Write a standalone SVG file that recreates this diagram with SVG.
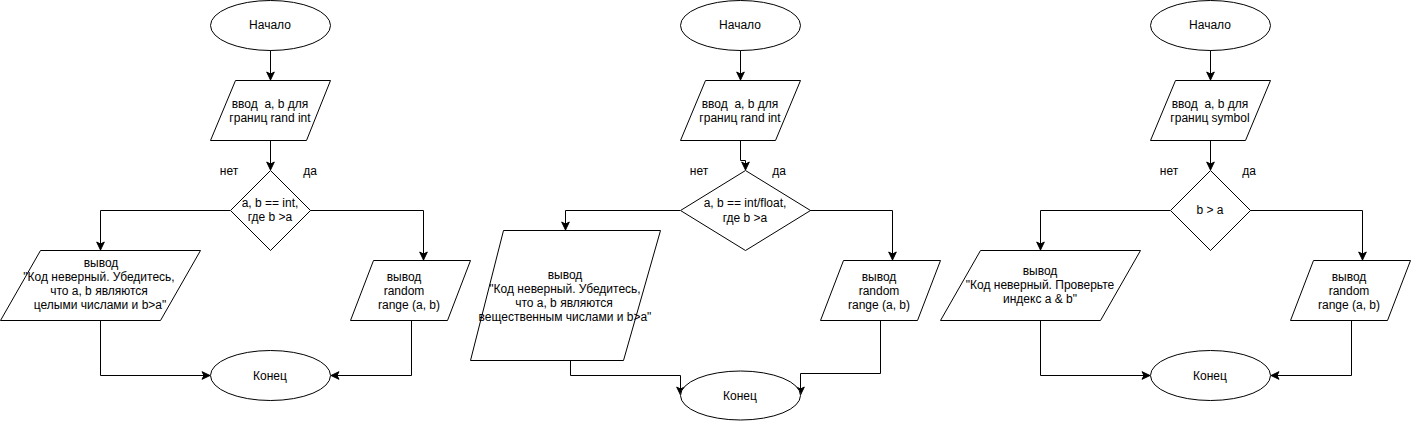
<svg xmlns="http://www.w3.org/2000/svg" width="1411" height="421" viewBox="0 0 1411 421">
<style>
.s{fill:#fff;stroke:#000;stroke-width:1}
.c{fill:none;stroke:#000;stroke-width:1;marker-end:url(#a)}
text{font-family:"Liberation Sans",Arial,sans-serif;font-size:12px;fill:#000;text-anchor:middle;dominant-baseline:central;white-space:pre}
</style>
<defs>
<marker id="a" markerUnits="userSpaceOnUse" markerWidth="10" markerHeight="10" viewBox="0 0 10 10" refX="9" refY="5" orient="auto">
<path d="M1,1.2 L9,5 L1,8.8 L3,5 Z" fill="#000" stroke="#000" stroke-width="1"/>
</marker>
</defs>
<rect width="1411" height="421" fill="#fff"/>
<g id="connectors">
<!-- diagram 1 -->
<path class="c" d="M270.5,50 V80"/>
<path class="c" d="M270.5,140 V170"/>
<path class="c" d="M230,210.5 H100.5 V250"/>
<path class="c" d="M310,210.5 H423.5 V260"/>
<path class="c" d="M100.5,320 V375.5 H210"/>
<path class="c" d="M411.5,320 V375.5 H331"/>
<!-- diagram 2 -->
<path class="c" d="M740.5,50 V80"/>
<path class="c" d="M740.5,140 V160.5 H745.5 V170"/>
<path class="c" d="M680,210.5 H565.5 V230"/>
<path class="c" d="M810,210.5 H892.5 V260"/>
<path class="c" d="M570.5,360 V375.5 H680.5 V395"/>
<path class="c" d="M880.5,320 V373.5 H800.5 V395"/>
<!-- diagram 3 -->
<path class="c" d="M1210.5,50 V80"/>
<path class="c" d="M1210.5,140 V170"/>
<path class="c" d="M1170,210.5 H1040.5 V250"/>
<path class="c" d="M1250,210.5 H1362.5 V260"/>
<path class="c" d="M1040.5,320 V375.5 H1150"/>
<path class="c" d="M1351.5,320 V375.5 H1271"/>
</g>
<g id="labels">
<text x="229" y="171">нет</text>
<text x="310" y="171">да</text>
<text x="699" y="171">нет</text>
<text x="779" y="171">да</text>
<text x="1169" y="171">нет</text>
<text x="1249" y="171">да</text>
</g>
<!-- Diagram 1 -->
<g id="d1-start"><ellipse class="s" cx="270.5" cy="25.5" rx="60" ry="25"/><text x="270" y="25">Начало</text></g>
<g id="d1-input"><polygon class="s" points="235.5,80.5 330.5,80.5 306.5,140.5 210.5,140.5"/><text x="270" y="104">ввод  a, b для</text><text x="270" y="118">границ rand int</text></g>
<g id="d1-cond"><polygon class="s" points="270.5,170.5 310.5,210.5 270.5,250.5 230.5,210.5"/><text x="270" y="203">a, b == int,</text><text x="270" y="217">где b &gt;a</text></g>
<g id="d1-err"><polygon class="s" points="40.5,250.5 200.5,250.5 160.5,320.5 0.5,320.5"/><text x="101" y="263">вывод</text><text x="99" y="277">"Код неверный. Убедитесь,</text><text x="99" y="291">что а, b являются</text><text x="100" y="305">целыми числами и b&gt;a"</text></g>
<g id="d1-out"><polygon class="s" points="373.5,260.5 470.5,260.5 447.5,320.5 350.5,320.5"/><text x="404" y="277">вывод</text><text x="404" y="291">random</text><text x="409" y="305">range (a, b)</text></g>
<g id="d1-end"><ellipse class="s" cx="270.5" cy="375.5" rx="60" ry="25"/><text x="270" y="376">Конец</text></g>
<!-- Diagram 2 -->
<g id="d2-start"><ellipse class="s" cx="740.5" cy="25.5" rx="60" ry="25"/><text x="740" y="25">Начало</text></g>
<g id="d2-input"><polygon class="s" points="705.5,80.5 800.5,80.5 775.5,140.5 680.5,140.5"/><text x="740" y="104">ввод  a, b для</text><text x="740" y="118">границ rand int</text></g>
<g id="d2-cond"><polygon class="s" points="745.5,170.5 810.5,210.5 745.5,250.5 680.5,210.5"/><text x="745" y="203">a, b == int/float,</text><text x="745" y="218">где b &gt;a</text></g>
<g id="d2-err"><polygon class="s" points="503.5,230.5 660.5,230.5 623.5,360.5 470.5,360.5"/><text x="565" y="275">вывод</text><text x="565" y="289">"Код неверный. Убедитесь,</text><text x="564" y="303">что а, b являются</text><text x="565" y="317">вещественным числами и b&gt;a"</text></g>
<g id="d2-out"><polygon class="s" points="843.5,260.5 940.5,260.5 917.5,320.5 820.5,320.5"/><text x="879" y="277">вывод</text><text x="879" y="291">random</text><text x="879" y="305">range (a, b)</text></g>
<g id="d2-end"><ellipse class="s" cx="740.5" cy="395.5" rx="60" ry="24.5"/><text x="740" y="396">Конец</text></g>
<!-- Diagram 3 -->
<g id="d3-start"><ellipse class="s" cx="1210.5" cy="25.5" rx="60" ry="25"/><text x="1210" y="25">Начало</text></g>
<g id="d3-input"><polygon class="s" points="1175.5,80.5 1270.5,80.5 1245.5,140.5 1150.5,140.5"/><text x="1210" y="104">ввод  a, b для</text><text x="1210" y="118">границ symbol</text></g>
<g id="d3-cond"><polygon class="s" points="1210.5,170.5 1250.5,210.5 1210.5,250.5 1170.5,210.5"/><text x="1210" y="210">b &gt; a</text></g>
<g id="d3-err"><polygon class="s" points="980.5,250.5 1140.5,250.5 1100.5,320.5 940.5,320.5"/><text x="1040" y="271">вывод</text><text x="1040" y="285">"Код неверный. Проверьте</text><text x="1040" y="299">индекс a &amp; b"</text></g>
<g id="d3-out"><polygon class="s" points="1313.5,260.5 1410.5,260.5 1387.5,320.5 1290.5,320.5"/><text x="1349" y="277">вывод</text><text x="1349" y="291">random</text><text x="1349" y="305">range (a, b)</text></g>
<g id="d3-end"><ellipse class="s" cx="1210.5" cy="375.5" rx="60" ry="25"/><text x="1210" y="376">Конец</text></g>
</svg>
